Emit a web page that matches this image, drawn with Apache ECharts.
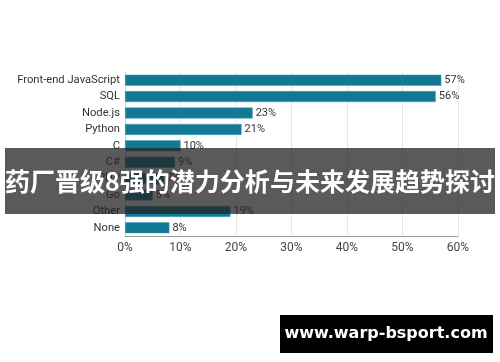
<!DOCTYPE html>
<html><head><meta charset="utf-8">
<script src="https://cdn.jsdelivr.net/npm/echarts@6/dist/echarts.min.js"></script>
<style>html,body{margin:0;padding:0;background:#fff}#c{width:500px;height:362px}</style>
</head><body><div id="c"></div>
<script>
var categories = ["Front-end JavaScript","SQL","Node.js","Python","C","C#","PHP","Go","Other","None"];
var values = [57,56,23,21,10,9,7,5,19,8];
var xTicks = [0,10,20,30,40,50,60];
var bannerText = "药厂晋级8强的潜力分析与未来发展趋势探讨";
var watermark = "www.warp-bsport.com";

var chart = echarts.init(document.getElementById('c'));
chart.setOption({
  animation:false,
  grid:{left:125,right:42,top:72,height:164},
  xAxis:{type:'value',min:0,max:60,interval:10,
    axisLine:{show:true,lineStyle:{color:'#9a9a9a'}},axisTick:{show:false},
    splitLine:{show:true,lineStyle:{color:'#e6e6e6'}},
    axisLabel:{formatter:'{value}%',color:'#444',fontSize:12,fontFamily:'Roboto',margin:6}},
  yAxis:{type:'category',inverse:true,data:categories,
    axisLine:{show:true,lineStyle:{color:'#cfcfcf'}},axisTick:{show:false},
    axisLabel:{color:'#333',fontSize:11.2,fontFamily:'Roboto',margin:5}},
  series:[{type:'bar',data:values,barWidth:11,
    itemStyle:{color:'#137894',borderColor:'#4aa3bb',borderWidth:0.5},
    label:{show:true,position:'right',formatter:'{c}%',color:'#333',fontSize:11,fontFamily:'Roboto',distance:3}}],
  graphic:[
    {type:'rect',shape:{x:5,y:148,width:490,height:66},style:{fill:'rgba(35,35,35,0.75)'},z:100},
    {type:'text',x:250,y:181,style:{text:bannerText,fill:'#fff',font:'bold 25px "Noto Sans CJK SC"',textAlign:'center',textVerticalAlign:'middle'},z:101},
    {type:'rect',shape:{x:280,y:315,width:213,height:38},style:{fill:'#000'},z:100},
    {type:'text',x:386,y:334,style:{text:watermark,fill:'#fff',font:'bold 16px "DejaVu Sans"',textAlign:'center',textVerticalAlign:'middle'},z:101}
  ]
});
</script></body></html>
